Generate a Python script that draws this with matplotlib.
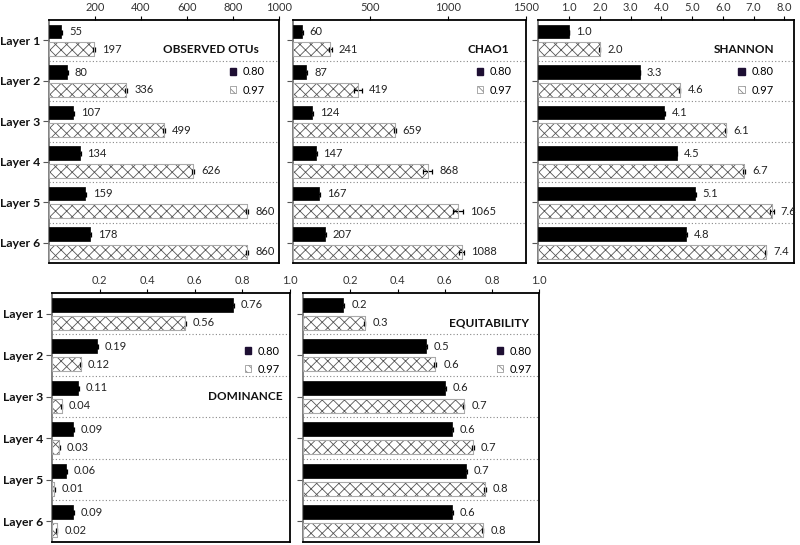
import numpy as np
import matplotlib
matplotlib.use('Agg')
import matplotlib.pyplot as plt
from matplotlib.patches import Patch

plt.rcParams['font.family'] = ['Lato', 'DejaVu Sans']
plt.rcParams['hatch.linewidth'] = 0.6

layers = ['Layer 1', 'Layer 2', 'Layer 3', 'Layer 4', 'Layer 5', 'Layer 6']
series_names = ['0.80', '0.97']

otu_80 = [55, 80, 107, 134, 159, 178]
otu_80_err = [3, 3, 3, 4, 4, 5]
otu_97 = [197, 336, 499, 626, 860, 860]
otu_97_err = [4, 4, 4, 6, 5, 5]

chao_80 = [60, 87, 124, 147, 167, 207]
chao_80_err = [4, 6, 4, 6, 6, 6]
chao_97 = [241, 419, 659, 868, 1065, 1088]
chao_97_err = [10, 25, 4, 30, 30, 15]

shannon_80 = [1.0, 3.3, 4.1, 4.5, 5.1, 4.8]
shannon_80_err = [0.01, 0.01, 0.02, 0.02, 0.02, 0.02]
shannon_97 = [2.0, 4.6, 6.1, 6.7, 7.6, 7.4]
shannon_97_err = [0.02, 0.02, 0.02, 0.03, 0.05, 0.02]

dominance_80 = [0.76, 0.19, 0.11, 0.09, 0.06, 0.09]
dominance_80_err = [0.003, 0.002, 0.002, 0.002, 0.002, 0.002]
dominance_97 = [0.56, 0.12, 0.04, 0.03, 0.01, 0.02]
dominance_97_err = [0.003, 0.002, 0.002, 0.002, 0.002, 0.002]

equit_80 = [0.17, 0.52, 0.60, 0.63, 0.69, 0.63]
equit_80_err = [0.004, 0.004, 0.003, 0.004, 0.004, 0.004]
equit_97 = [0.26, 0.56, 0.68, 0.72, 0.77, 0.76]
equit_97_err = [0.003, 0.004, 0.003, 0.003, 0.003, 0.003]

otu_ticks = [200, 400, 600, 800, 1000]
chao_ticks = [500, 1000, 1500]
shannon_ticks = [1.0, 2.0, 3.0, 4.0, 5.0, 6.0, 7.0, 8.0]
frac_ticks = [0.2, 0.4, 0.6, 0.8, 1.0]

fig = plt.figure(figsize=(8, 5.45), dpi=100)

panels = [
    # rect, title, v80, e80, v97, e97, xlim, ticks, tick fmt, label fmt, title pos, legend pos, layer labels
    ([0.061, 0.517, 0.288, 0.446], 'OBSERVED OTUs', otu_80, otu_80_err, otu_97, otu_97_err,
     1000, otu_ticks, '%d', '%d', (0.91, 0.22), (0.785, 0.75), True),
    ([0.366, 0.517, 0.291, 0.446], 'CHAO1', chao_80, chao_80_err, chao_97, chao_97_err,
     1500, chao_ticks, '%d', '%d', (0.93, 0.22), (0.79, 0.75), False),
    ([0.673, 0.517, 0.320, 0.446], 'SHANNON', shannon_80, shannon_80_err, shannon_97, shannon_97_err,
     8.33, shannon_ticks, '%.1f', '%.1f', (0.92, 0.22), (0.78, 0.75), False),
    ([0.065, 0.0055, 0.2975, 0.457], 'DOMINANCE', dominance_80, dominance_80_err, dominance_97, dominance_97_err,
     1.0, frac_ticks, '%.1f', '%.2f', (0.97, 2.0), (0.81, 0.73), True),
    ([0.379, 0.0055, 0.295, 0.457], 'EQUITABILITY', equit_80, equit_80_err, equit_97, equit_97_err,
     1.0, frac_ticks, '%.1f', '%.1f', (0.955, 0.22), (0.82, 0.73), False),
]

y = np.arange(len(layers))
h = 0.34
off = 0.22

for rect, title, v80, e80, v97, e97, xmax, ticks, tfmt, lfmt, tpos, lpos, show_y in panels:
    ax = fig.add_axes(rect)
    ekw = dict(capsize=1.8, elinewidth=0.9, ecolor='black', capthick=0.9)
    ax.barh(y - off, v80, height=h, xerr=e80, color='black', edgecolor='black',
            linewidth=0.5, error_kw=ekw, zorder=3)
    ax.barh(y + off, v97, height=h, xerr=e97, color='white', edgecolor='#555555',
            hatch='xxx', linewidth=0.6, error_kw=ekw, zorder=3)
    ax.barh(y + off, v97, height=h, fill=False, edgecolor='#aaaaaa', linewidth=0.8, zorder=4)

    for yy, v, e in zip(y - off, v80, e80):
        ax.annotate(lfmt % v, (v + e, yy), xytext=(5, 0), textcoords='offset points',
                    va='center', ha='left', fontsize=8, color='#222222')
    for yy, v, e in zip(y + off, v97, e97):
        ax.annotate(lfmt % v, (v + e, yy), xytext=(5, 0), textcoords='offset points',
                    va='center', ha='left', fontsize=8, color='#222222')

    for b in np.arange(0.5, len(layers) - 1, 1.0):
        ax.axhline(b, color='#888888', linestyle=(0, (1, 2)), linewidth=0.8, zorder=1)

    ax.set_xlim(0, xmax)
    ax.set_ylim(len(layers) - 0.5, -0.5)
    ax.xaxis.tick_top()
    ax.set_xticks(ticks)
    ax.set_xticklabels([tfmt % t for t in ticks], fontsize=8, color='#333333')
    ax.tick_params(axis='x', length=3, width=0.8, pad=2, direction='out')
    ax.set_yticks(y)
    if show_y:
        ax.set_yticklabels(layers, fontsize=8.8, fontweight='bold', color='#111111')
    else:
        ax.set_yticklabels([])
    ax.tick_params(axis='y', length=4, width=0.8, pad=2, color='#555555')
    for s in ax.spines.values():
        s.set_linewidth(1.3)
        s.set_color('black')
    ax.spines['left'].set_color('#777777')

    ax.text(tpos[0], tpos[1], title, transform=ax.get_yaxis_transform(), ha='right',
            va='center', fontsize=8.5, fontweight='bold', color='#111111')

    handles = [Patch(facecolor='#1e0f33', edgecolor='#1e0f33'),
               Patch(facecolor='white', edgecolor='#888888', hatch='\\\\\\\\', linewidth=0.5)]
    ax.legend(handles, series_names, loc='center left', bbox_to_anchor=lpos, frameon=False,
              fontsize=8, handlelength=0.6, handleheight=0.6, handletextpad=0.6,
              labelspacing=0.65, borderpad=0, borderaxespad=0)

fig.savefig('out.png', dpi=100)
